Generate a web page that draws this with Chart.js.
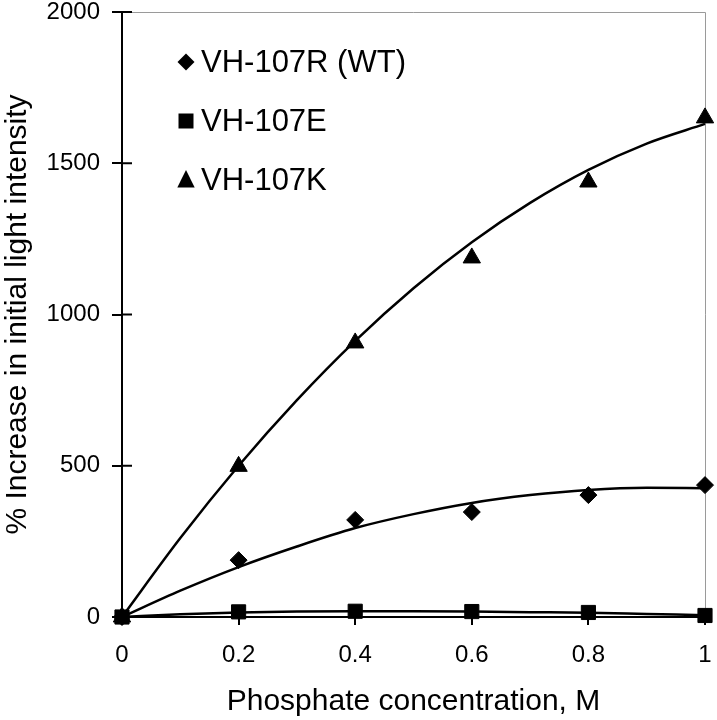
<!DOCTYPE html>
<html>
<head>
<meta charset="utf-8">
<script src="https://cdn.jsdelivr.net/npm/chart.js@4/dist/chart.umd.min.js"></script>
<style>
  html, body { margin: 0; padding: 0; background: #fff; }
  #wrap { width: 717px; height: 720px; }
</style>
</head>
<body>
<div id="wrap"><canvas id="c" width="717" height="720"></canvas></div>
<script>
// ---- data ----
const concentrations = [0, 0.2, 0.4, 0.6, 0.8, 1];
const wtValues = [0, 188, 321, 347, 403, 436];      // VH-107R (WT), diamonds
const eValues  = [0, 17, 19, 18, 15, 5];            // VH-107E, squares
const kValues  = [0, 498, 906, 1187, 1438, 1650];   // VH-107K, triangles

// fitted trend curves
const fitX     = [0, 0.1, 0.2, 0.3, 0.4, 0.5, 0.6, 0.7, 0.8, 0.9, 1];
const wtFit    = [0, 87, 165, 233, 294, 340, 377, 403, 420, 427, 426];
const eFit     = [0, 9, 15, 18, 19, 19, 18, 16, 14, 10, 6];
const kFit     = [0, 261, 500, 717, 913, 1087, 1239, 1369, 1478, 1565, 1630];

const seriesLabels = ['VH-107R (WT)', 'VH-107E', 'VH-107K'];
const xTicks = [0, 0.2, 0.4, 0.6, 0.8, 1];
const yTicks = [0, 500, 1000, 1500, 2000];

const FONT = "'Liberation Sans', Arial, sans-serif";

function pts(xs, ys) { return xs.map((x, i) => ({ x: x, y: ys[i] })); }

function lineDs(values) {
  return {
    type: 'line', data: pts(fitX, values), borderColor: '#000', borderWidth: 2.5,
    pointRadius: 0, fill: false, cubicInterpolationMode: 'monotone', order: 2, clip: false
  };
}
function markDs(label, values, style, radius) {
  return {
    type: 'scatter', label: label, data: pts(concentrations, values),
    pointStyle: style, pointRadius: radius, pointHoverRadius: radius,
    backgroundColor: '#000', borderColor: '#000', borderWidth: 1,
    showLine: false, order: 1, clip: false
  };
}

const markerStyles = ['rectRot', 'rect', 'triangle'];
const markerRadii = [8.5, 10, 10];

const framePlugin = {
  id: 'frame',
  beforeDatasetsDraw(chart) {
    const { ctx, chartArea: a, scales } = chart;
    ctx.save();
    ctx.strokeStyle = '#9a9a9a';
    ctx.lineWidth = 1;
    ctx.beginPath();
    ctx.moveTo(a.left, a.top + 0.5);
    ctx.lineTo(a.right + 0.5, a.top + 0.5);
    ctx.lineTo(a.right + 0.5, a.bottom);
    ctx.stroke();
    // inner halves of the y ticks
    ctx.strokeStyle = '#000';
    ctx.lineWidth = 2;
    yTicks.forEach(v => {
      const y = scales.y.getPixelForValue(v);
      ctx.beginPath();
      ctx.moveTo(a.left, y);
      ctx.lineTo(a.left + 10, y);
      ctx.stroke();
    });
    ctx.restore();
  },
  afterDraw(chart) {
    const { ctx } = chart;
    const rows = [62, 121, 180];
    const mx = 186, tx = 201;
    ctx.save();
    ctx.fillStyle = '#000';
    ctx.font = '31px ' + FONT;
    ctx.textBaseline = 'middle';
    ctx.textAlign = 'left';
    seriesLabels.forEach((lab, i) => {
      const y = rows[i];
      ctx.beginPath();
      if (markerStyles[i] === 'rectRot') {
        const r = 8.5;
        ctx.moveTo(mx, y - r); ctx.lineTo(mx + r, y); ctx.lineTo(mx, y + r); ctx.lineTo(mx - r, y);
      } else if (markerStyles[i] === 'rect') {
        const h = 7.5;
        ctx.rect(mx - h, y - h, 2 * h, 2 * h);
      } else {
        ctx.moveTo(mx, y - 10); ctx.lineTo(mx + 8.7, y + 7.5); ctx.lineTo(mx - 8.7, y + 7.5);
      }
      ctx.closePath();
      ctx.fill();
      ctx.fillText(lab, tx, y + 1);
    });
    ctx.restore();
  }
};

new Chart(document.getElementById('c'), {
  type: 'scatter',
  data: {
    datasets: [
      lineDs(wtFit), lineDs(eFit), lineDs(kFit),
      markDs(seriesLabels[0], wtValues, markerStyles[0], markerRadii[0]),
      markDs(seriesLabels[1], eValues, markerStyles[1], markerRadii[1]),
      markDs(seriesLabels[2], kValues, markerStyles[2], markerRadii[2])
    ]
  },
  options: {
    responsive: false,
    animation: false,
    events: [],
    layout: { padding: { top: 12, right: 12, left: 0, bottom: 0 } },
    plugins: { legend: { display: false }, tooltip: { enabled: false } },
    scales: {
      x: {
        type: 'linear', min: 0, max: 1,
        afterFit(s) { s.height = 103; s.paddingLeft = 0; s.paddingRight = 0; },
        afterBuildTicks(s) { s.ticks = xTicks.map(v => ({ value: v })); },
        grid: { display: true, drawOnChartArea: false, drawTicks: true, tickLength: 8, color: '#000', lineWidth: 2 },
        border: { display: true, color: '#000', width: 2 },
        ticks: { color: '#000', font: { family: FONT, size: 24 }, padding: 16, maxRotation: 0,
                 callback: v => String(v) },
        title: { display: true, text: 'Phosphate concentration, M', color: '#000',
                 font: { family: FONT, size: 30 }, padding: { top: 0, bottom: 0 } }
      },
      y: {
        type: 'linear', min: 0, max: 2000,
        afterFit(s) { s.width = 122; s.paddingTop = 0; s.paddingBottom = 0; },
        afterBuildTicks(s) { s.ticks = yTicks.map(v => ({ value: v })); },
        grid: { display: true, drawOnChartArea: false, drawTicks: true, tickLength: 10, color: '#000', lineWidth: 2 },
        border: { display: true, color: '#000', width: 2 },
        ticks: { color: '#000', font: { family: FONT, size: 24 }, padding: 12,
                 callback: v => String(v) },
        title: { display: true, text: '% Increase in initial light intensity', color: '#000',
                 font: { family: FONT, size: 30 }, padding: { top: 0, bottom: 0 } }
      }
    }
  },
  plugins: [framePlugin]
});
</script>
</body>
</html>
